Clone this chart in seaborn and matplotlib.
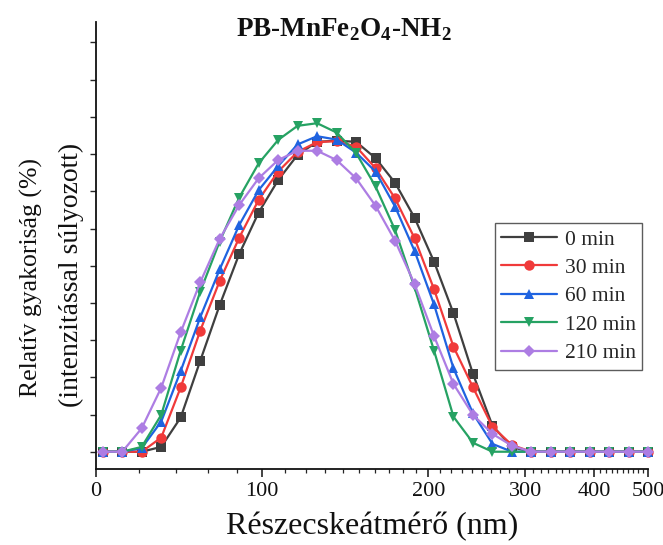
import numpy as np
import pandas as pd
import matplotlib
matplotlib.use("Agg")
import matplotlib.pyplot as plt
from matplotlib.ticker import FixedLocator, NullFormatter
import seaborn as sns

# Particle diameters of the size bins (nm), log-spaced
diameter_nm = [51.5, 55.86, 60.58, 65.71, 71.27, 77.30, 83.84, 90.94, 98.63,
               106.98, 116.03, 125.85, 136.50, 148.05, 160.58, 174.17, 188.91,
               204.89, 222.23, 241.04, 261.44, 283.56, 307.55, 333.57, 361.80,
               392.41, 425.62, 461.64, 500.0]

# Intensity-weighted relative frequency (%) for each incubation time
freq_0min = [0, 0, 0, 0.13, 0.92, 2.44, 3.94, 5.31, 6.43, 7.30, 7.98, 8.33, 8.36,
             8.33, 7.89, 7.23, 6.29, 5.11, 3.72, 2.09, 0.70, 0.12, 0, 0, 0, 0, 0, 0, 0]
freq_30min = [0, 0, 0, 0.38, 1.73, 3.25, 4.59, 5.75, 6.77, 7.53, 8.06, 8.32, 8.35,
              8.20, 7.62, 6.81, 5.74, 4.37, 2.82, 1.73, 0.67, 0.18, 0, 0, 0, 0, 0, 0, 0]
freq_60min = [0, 0, 0.10, 0.81, 2.17, 3.61, 4.90, 6.09, 7.03, 7.68, 8.26, 8.48, 8.39,
              8.04, 7.53, 6.59, 5.40, 3.96, 2.24, 1.03, 0.21, 0, 0, 0, 0, 0, 0, 0, 0]
freq_120min = [0, 0, 0.13, 0.99, 2.72, 4.30, 5.65, 6.83, 7.75, 8.38, 8.76, 8.83, 8.58,
               8.03, 7.13, 5.96, 4.42, 2.72, 0.94, 0.24, 0, 0, 0, 0, 0, 0, 0, 0, 0]
freq_210min = [0, 0, 0.63, 1.72, 3.21, 4.55, 5.72, 6.63, 7.35, 7.84, 8.09, 8.09, 7.84,
               7.35, 6.61, 5.67, 4.51, 3.11, 1.82, 0.99, 0.48, 0.16, 0, 0, 0, 0, 0, 0, 0]

series_labels = ["0 min", "30 min", "60 min", "120 min", "210 min"]
series_values = [freq_0min, freq_30min, freq_60min, freq_120min, freq_210min]
series_colors = ["#3f3f3f", "#f03a3a", "#1f63e0", "#26a263", "#ad7de3"]
series_markers = ["s", "o", "^", "v", "D"]
series_msize = [6.5, 7.5, 7.5, 7.5, 6.5]

x_tick_values = [50, 100, 200, 300, 400, 500]
x_tick_labels = ["0", "100", "200", "300", "400", "500"]

sns.set_theme(style="ticks")
plt.rcParams["font.family"] = ["Liberation Serif", "DejaVu Serif"]
plt.rcParams["mathtext.fontset"] = "custom"
plt.rcParams["mathtext.rm"] = "Liberation Serif"
plt.rcParams["mathtext.bf"] = "Liberation Serif:bold"

df = pd.concat(
    [pd.DataFrame({"d": diameter_nm, "f": vals, "t": lab})
     for lab, vals in zip(series_labels, series_values)],
    ignore_index=True,
)

fig = plt.figure(figsize=(6.63, 5.45), dpi=100)
ax = fig.add_axes([0.1443, 0.1394, 0.8331, 0.8202])

for lab, col, mk, ms in zip(series_labels, series_colors, series_markers, series_msize):
    sub = df[df["t"] == lab]
    sns.lineplot(data=sub, x="d", y="f", ax=ax, color=col, marker=mk,
                 markersize=ms, markeredgewidth=0, linewidth=1.6,
                 label=lab, clip_on=False, sort=False)

ax.set_xscale("log")
ax.set_xlim(50, 500)
ax.set_ylim(-0.465, 11.55)

ax.xaxis.set_major_locator(FixedLocator(x_tick_values))
ax.set_xticklabels(x_tick_labels)
minor = [v for v in range(60, 500, 10) if v not in x_tick_values]
ax.xaxis.set_minor_locator(FixedLocator(minor))
ax.xaxis.set_minor_formatter(NullFormatter())

ax.yaxis.set_major_locator(FixedLocator(list(range(0, 12))))
ax.set_yticklabels([])

ax.tick_params(axis="x", which="major", direction="out", length=5.5, width=1.1,
               labelsize=16, pad=4, colors="#111111")
ax.tick_params(axis="x", which="minor", direction="out", length=3, width=0.9)
ax.tick_params(axis="y", which="major", direction="out", length=4, width=1.0)

for side in ["top", "right"]:
    ax.spines[side].set_visible(False)
for side in ["left", "bottom"]:
    ax.spines[side].set_linewidth(1.3)
    ax.spines[side].set_color("#111111")

ax.set_xlabel("Részecskeátmérő (nm)", fontsize=23, labelpad=8, color="#111111")
ax.set_ylabel("")

fig.text(0.047, 0.49, "Relatív gyakoriság (%)", rotation=90, ha="center",
         va="center", fontsize=18.5, color="#111111")
fig.text(0.108, 0.496, "(intenzitással súlyozott)", rotation=90, ha="center",
         va="center", fontsize=20, color="#111111")

fig.text(0.519, 0.946, r"PB-MnFe$_\mathbf{2}$O$_\mathbf{4}$-NH$_\mathbf{2}$",
         ha="center", va="center", fontsize=19.5, fontweight="bold", color="#111111")

leg = ax.legend(loc="upper left", bbox_to_anchor=(495 / 663, 1 - 223 / 545),
                bbox_transform=fig.transFigure, frameon=True, fancybox=False,
                fontsize=15.5, handlelength=2.6, handletextpad=0.35,
                labelspacing=0.39, borderpad=0.3, borderaxespad=0)
leg.get_frame().set_edgecolor("#333333")
leg.get_frame().set_linewidth(1.0)

fig.savefig("out.png", dpi=100)
